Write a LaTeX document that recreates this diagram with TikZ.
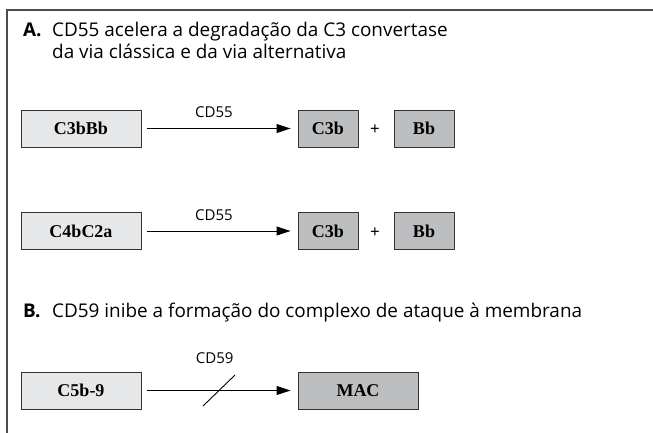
\documentclass[tikz,border=0pt]{standalone}
\usepackage{fontspec}
\setmainfont{Liberation Serif}
\setsansfont{Open Sans}
\usetikzlibrary{arrows.meta,positioning}
\definecolor{framegray}{HTML}{4D4D4D}
\definecolor{light}{HTML}{E6E7E8}
\definecolor{dark}{HTML}{BCBEC0}
\definecolor{edge}{HTML}{333333}
\tikzset{
  frameline/.style={draw=framegray, line width=1.8pt},
  srcbox/.style={draw=edge, fill=light, line width=0.9pt, minimum width=120pt, minimum height=37pt, inner sep=0pt, font=\fontsize{18}{20}\selectfont\bfseries},
  prodbox/.style={srcbox, fill=dark, minimum width=60pt},
  ttl/.style={font=\sffamily\fontsize{18.9}{22}\selectfont, anchor=base west, inner sep=0pt},
  lab/.style={font=\sffamily\fontsize{15}{17}\selectfont, inner sep=1pt},
  plus/.style={font=\fontsize{17}{19}\selectfont\bfseries},
  react/.style={draw=black, line width=1pt, -{Triangle[length=14pt,width=9pt]}},
}

\begin{document}
\begin{tikzpicture}[x=1pt,y=-1pt]
  \useasboundingbox (0,0) rectangle (653,433);
  \draw[frameline] (7,433) -- (7,10) -- (653,10);

  \node[ttl] (headA) at (23,37) {\textbf{A.}};
  \node[ttl] (textA) at (52,37) {CD55 acelera a degradação da C3 convertase};
  \node[ttl] (textA2) at (52,59) {da via clássica e da via alternativa};

  \node[srcbox] (c3bbb) at (81,128.5) {C3bBb};
  \node[prodbox] (c3bA) at (328,128.5) {C3b};
  \node[prodbox] (bbA) at (424,128.5) {Bb};
  \node[plus] (plusA) at (375,130) {+};
  \draw[react] ([xshift=6pt]c3bbb.east) -- ([xshift=-7pt]c3bA.west)
    node[lab, pos=0.465, above=9pt] {CD55};

  \node[srcbox] (c4bc2a) at (81,231) {C4bC2a};
  \node[prodbox] (c3bB) at (328,231) {C3b};
  \node[prodbox] (bbB) at (424,231) {Bb};
  \node[plus] (plusB) at (375,232.5) {+};
  \draw[react] ([xshift=6pt]c4bc2a.east) -- ([xshift=-7pt]c3bB.west)
    node[lab, pos=0.465, above=9pt] {CD55};

  \node[ttl] (headB) at (23,317) {\textbf{B.}};
  \node[ttl] (textB) at (52,317) {CD59 inibe a formação do complexo de ataque à membrana};

  \node[srcbox] (c5b9) at (81,390.5) {C5b-9};
  \node[prodbox, minimum width=120pt] (mac) at (358,390.5) {MAC};
  \draw[react] ([xshift=6pt]c5b9.east) -- ([xshift=-7pt]mac.west)
    coordinate[midway] (cut)
    node[lab, pos=0.47, above=25pt] {CD59};
  \draw[line width=0.9pt] (cut) ++(-16,15.5) -- ++(32,-31);
\end{tikzpicture}
\end{document}
